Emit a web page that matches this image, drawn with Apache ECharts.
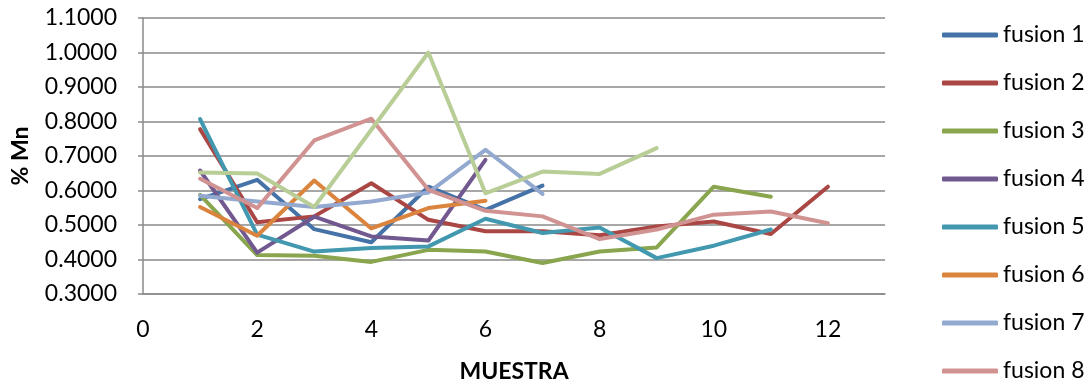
<!DOCTYPE html>
<html>
<head>
<meta charset="utf-8">
<script src="https://cdn.jsdelivr.net/npm/echarts@6/dist/echarts.min.js"></script>
<style>
  html, body { margin: 0; padding: 0; background: #ffffff; }
  #chart { width: 1089px; height: 388px; }
</style>
</head>
<body>
<div id="chart"></div>
<script>
// Sample number (x) shared by every fusion run
const muestra = [1, 2, 3, 4, 5, 6, 7, 8, 9, 10, 11, 12];

// % Mn per sample for each fusion
const fusion1 = [0.575, 0.631, 0.488, 0.450, 0.611, 0.544, 0.614];
const fusion2 = [0.778, 0.508, 0.525, 0.621, 0.515, 0.482, 0.482, 0.470, 0.496, 0.510, 0.474, 0.611];
const fusion3 = [0.587, 0.413, 0.411, 0.393, 0.428, 0.423, 0.390, 0.423, 0.435, 0.611, 0.582];
const fusion4 = [0.658, 0.420, 0.524, 0.467, 0.455, 0.689];
const fusion5 = [0.807, 0.472, 0.423, 0.433, 0.438, 0.518, 0.477, 0.493, 0.404, 0.440, 0.487];
const fusion6 = [0.552, 0.469, 0.629, 0.490, 0.549, 0.570];
const fusion7 = [0.585, 0.568, 0.552, 0.568, 0.594, 0.718, 0.590];
const fusion8 = [0.634, 0.549, 0.745, 0.808, 0.602, 0.541, 0.525, 0.459, 0.487, 0.530, 0.539, 0.505];
const fusion9 = [0.652, 0.649, 0.552, 0.776, 1.000, 0.592, 0.655, 0.648, 0.723];

const seriesNames = ['fusion 1', 'fusion 2', 'fusion 3', 'fusion 4', 'fusion 5',
                     'fusion 6', 'fusion 7', 'fusion 8', 'fusion 9'];
const seriesValues = [fusion1, fusion2, fusion3, fusion4, fusion5, fusion6, fusion7, fusion8, fusion9];
const palette = ['#4572A7', '#AA4643', '#89A54E', '#71588F', '#4198AF',
                 '#DB843D', '#93A9CF', '#D19392', '#B9CD96'];

const yTicks = [0.3, 0.4, 0.5, 0.6, 0.7, 0.8, 0.9, 1.0, 1.1];
const xTicks = [0, 2, 4, 6, 8, 10, 12];

const FONT = 'Lato, "Open Sans", sans-serif';
const gridColor = '#8a8a8a';

const chart = echarts.init(document.getElementById('chart'), null, { renderer: 'canvas' });

const series = seriesValues.map((vals, i) => ({
  name: seriesNames[i],
  type: 'line',
  data: vals.map((v, k) => [muestra[k], v]),
  showSymbol: false,
  symbol: 'none',
  color: palette[i],
  lineStyle: { width: 4, color: palette[i], cap: 'round', join: 'round' },
  z: 2 + i
}));

chart.setOption({
  animation: false,
  backgroundColor: '#ffffff',
  color: palette,
  grid: { left: 143, right: 204, top: 18, bottom: 94, containLabel: false },
  xAxis: {
    type: 'value',
    min: 0,
    max: 13,
    interval: 2,
    name: 'MUESTRA',
    nameLocation: 'middle',
    nameGap: 66,
    nameTextStyle: { fontFamily: FONT, fontWeight: 'bold', fontSize: 23, color: '#000' },
    axisLine: { show: true, lineStyle: { color: gridColor, width: 1.5 } },
    axisTick: { show: false },
    splitLine: { show: false },
    axisLabel: {
      fontFamily: FONT, fontSize: 23, color: '#000', margin: 24,
      showMaxLabel: false,
      formatter: v => (xTicks.indexOf(v) >= 0 ? String(v) : '')
    }
  },
  yAxis: {
    type: 'value',
    min: yTicks[0],
    max: yTicks[yTicks.length - 1],
    interval: 0.1,
    name: '% Mn',
    nameLocation: 'middle',
    nameGap: 111,
    nameRotate: 90,
    nameTextStyle: { fontFamily: FONT, fontWeight: 'bold', fontSize: 23, color: '#000' },
    axisLine: { show: true, lineStyle: { color: gridColor, width: 1.5 } },
    axisTick: { show: true, length: 5, lineStyle: { color: gridColor, width: 1.5 } },
    splitLine: { show: true, lineStyle: { color: gridColor, width: 1.5 } },
    axisLabel: {
      fontFamily: FONT, fontSize: 23, color: '#000', margin: 26,
      formatter: v => v.toFixed(4)
    }
  },
  legend: {
    orient: 'vertical',
    left: 937,
    top: 18,
    height: 400,
    itemWidth: 56,
    itemHeight: 5,
    itemGap: 24,
    icon: 'roundRect',
    selectedMode: false,
    data: seriesNames.slice(0, 8),
    textStyle: { fontFamily: FONT, fontSize: 23, color: '#000', lineHeight: 24, padding: [0, 0, 0, 0] }
  },
  series: series
});
</script>
</body>
</html>
